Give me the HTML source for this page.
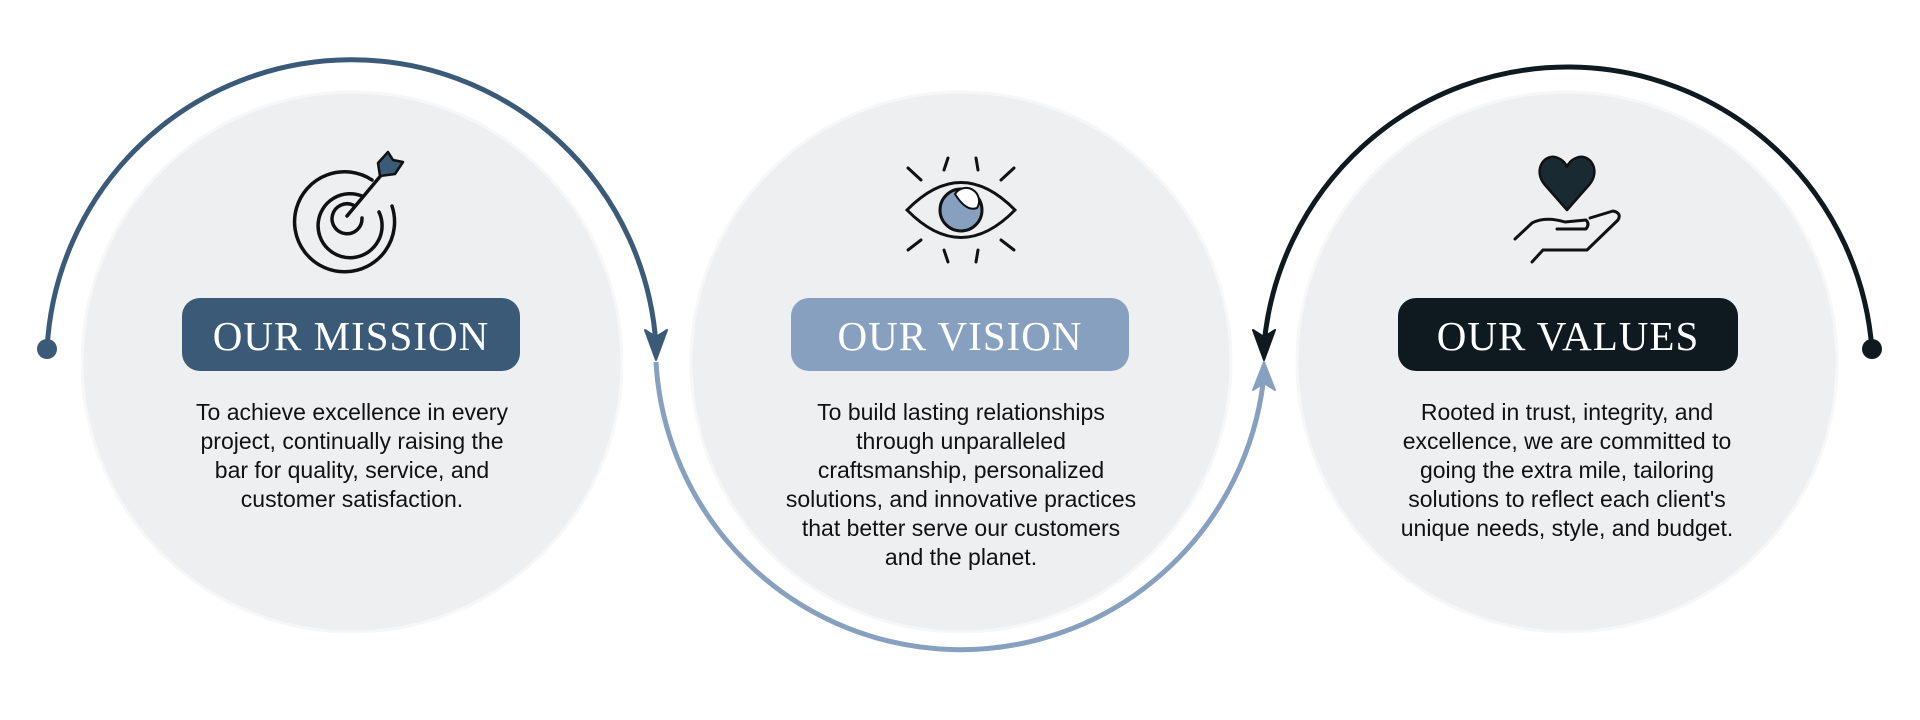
<!DOCTYPE html>
<html><head><meta charset="utf-8"><style>
html,body{margin:0;padding:0;background:#fff;}
svg{display:block}
.t{font-family:"Liberation Serif",serif;font-size:41px;fill:#fff;text-anchor:middle;letter-spacing:1px}
.b{font-family:"Liberation Sans",sans-serif;font-size:23px;fill:#111;text-anchor:middle}
</style></head><body>
<svg width="1920" height="720" viewBox="0 0 1920 720" xmlns="http://www.w3.org/2000/svg">
<g fill="#eeeff1" stroke="#f7f7f8" stroke-width="3">
<circle cx="352" cy="362" r="270"/>
<circle cx="961" cy="362" r="270"/>
<circle cx="1567" cy="362" r="270"/>
</g>
<path d="M47 350 A305 305 0 0 1 656 345" fill="none" stroke="#3a5a78" stroke-width="5"/>
<circle cx="47" cy="349" r="10" fill="#3a5a78"/>
<path d="M645 330 L656 360 L667 330 L656 337 Z" fill="#3a5a78" stroke="#3a5a78" stroke-width="2" stroke-linejoin="round"/>
<path d="M656 362 A305 305 0 0 0 1264 375" fill="none" stroke="#87a0c0" stroke-width="5"/>
<path d="M1253 390 L1264 362 L1275 390 L1264 383 Z" fill="#87a0c0" stroke="#87a0c0" stroke-width="2" stroke-linejoin="round"/>
<path d="M1872 350 A305 305 0 0 0 1264 345" fill="none" stroke="#0f1a20" stroke-width="5"/>
<circle cx="1872" cy="349" r="10" fill="#0f1a20"/>
<path d="M1253 330 L1264 360 L1275 330 L1264 337 Z" fill="#0f1a20" stroke="#0f1a20" stroke-width="2" stroke-linejoin="round"/>
<g fill="none" stroke="#111" stroke-width="3.5" stroke-linecap="round">
<path d="M372 180 A50 50 0 1 0 392 206"/>
<path d="M362 196 A32 32 0 1 0 379 212"/>
<path d="M353 205 A15 15 0 1 0 362 218"/>
<line x1="347" y1="216" x2="383" y2="173"/>
</g>
<path d="M380 176 L378 163 L388 152 L393 160 L403 162 L395 174 Z" fill="#3a5a78" stroke="#111" stroke-width="2.5" stroke-linejoin="round"/>
<g fill="none" stroke="#111" stroke-width="3" stroke-linecap="round">
<path d="M907 210 Q961 155 1015 210 Q961 265 907 210 Z"/>
<line x1="948" y1="158" x2="944" y2="170"/><line x1="976" y1="158" x2="978" y2="170"/>
<line x1="908" y1="168" x2="921" y2="180"/><line x1="1014" y1="168" x2="1001" y2="180"/>
<line x1="948" y1="262" x2="944" y2="250"/><line x1="976" y1="262" x2="978" y2="250"/>
<line x1="908" y1="250" x2="921" y2="240"/><line x1="1014" y1="250" x2="1001" y2="240"/>
</g>
<circle cx="961" cy="210" r="21" fill="#87a0c0" stroke="#111" stroke-width="3"/>
<path d="M955 194 A12 12 0 0 1 977 208 Q966 212 955 194 Z" fill="#fff" stroke="#111" stroke-width="2"/>
<path d="M1567 210 L1545 185 C1532 170 1545 152 1558 158 C1563 160 1566 164 1567 167 C1568 164 1571 160 1576 158 C1589 152 1602 170 1589 185 Z" fill="#1a2a33" stroke="#111" stroke-width="2.5" stroke-linejoin="round"/>
<g fill="none" stroke="#111" stroke-width="3" stroke-linecap="round" stroke-linejoin="round">
<path d="M1515 239 L1532 223 Q1545 216 1565 222 L1586 220 Q1590 224 1586 229 L1557 229"/>
<path d="M1590 218 L1613 211 Q1622 213 1618 220 L1587 250 L1543 250 L1532 262"/>
</g>
<rect x="182" y="298" width="338" height="73" rx="18" fill="#3a5a78"/>
<rect x="791" y="298" width="338" height="73" rx="18" fill="#87a0c0"/>
<rect x="1398" y="298" width="340" height="73" rx="18" fill="#0f1a20"/>
<text class="t" x="351" y="350">OUR MISSION</text>
<text class="t" x="960" y="350">OUR VISION</text>
<text class="t" x="1568" y="350">OUR VALUES</text>
<text class="b" x="352" y="420">To achieve excellence in every</text>
<text class="b" x="352" y="449">project, continually raising the</text>
<text class="b" x="352" y="478">bar for quality, service, and</text>
<text class="b" x="352" y="507">customer satisfaction.</text>
<text class="b" x="961" y="420">To build lasting relationships</text>
<text class="b" x="961" y="449">through unparalleled</text>
<text class="b" x="961" y="478">craftsmanship, personalized</text>
<text class="b" x="961" y="507">solutions, and innovative practices</text>
<text class="b" x="961" y="536">that better serve our customers</text>
<text class="b" x="961" y="565">and the planet.</text>
<text class="b" x="1567" y="420">Rooted in trust, integrity, and</text>
<text class="b" x="1567" y="449">excellence, we are committed to</text>
<text class="b" x="1567" y="478">going the extra mile, tailoring</text>
<text class="b" x="1567" y="507">solutions to reflect each client's</text>
<text class="b" x="1567" y="536">unique needs, style, and budget.</text>
</svg>
</body></html>
